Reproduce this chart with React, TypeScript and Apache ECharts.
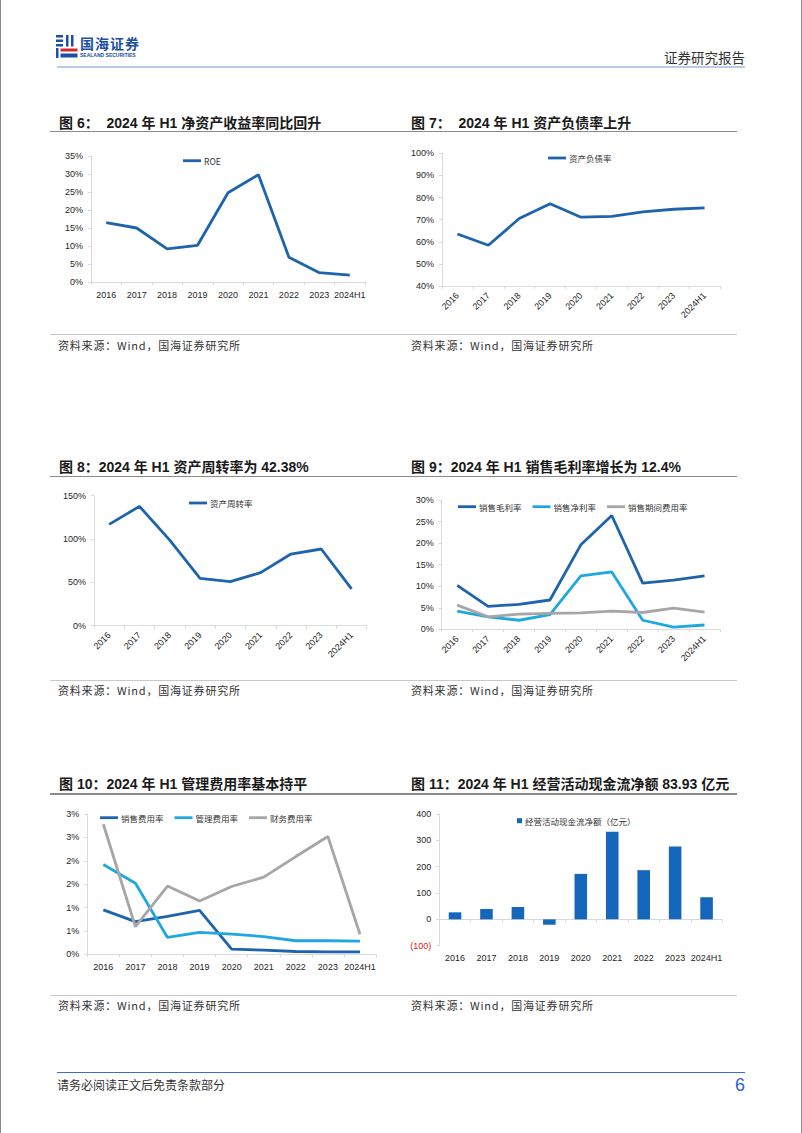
import React, { useEffect, useRef } from "react";
import * as echarts from "echarts";

// ---------------- data ----------------
const years = ["2016", "2017", "2018", "2019", "2020", "2021", "2022", "2023", "2024H1"];
const roe = [16.5, 15.0, 9.2, 10.2, 24.8, 29.8, 6.9, 2.6, 1.9];
const debtRatio = [63.5, 58.4, 70.5, 77.2, 71.1, 71.5, 73.5, 74.7, 75.3];
const assetTurnover = [116.9, 137.7, 98.8, 54.6, 50.8, 61.2, 82.7, 88.5, 42.38];
const grossMargin = [10.2, 5.3, 5.8, 6.8, 19.6, 26.4, 10.7, 11.4, 12.4];
const netMargin = [4.2, 2.9, 2.1, 3.4, 12.4, 13.3, 2.1, 0.5, 1.0];
const periodExpense = [5.6, 2.9, 3.5, 3.7, 3.8, 4.2, 3.9, 4.9, 4.0];
const sellingExpense = [0.95, 0.7, 0.81, 0.94, 0.11, 0.09, 0.06, 0.05, 0.05];
const adminExpense = [1.92, 1.52, 0.36, 0.47, 0.43, 0.38, 0.29, 0.29, 0.28];
const financeExpense = [2.78, 0.59, 1.46, 1.14, 1.45, 1.65, 2.09, 2.52, 0.43];
const operatingCashFlow = [26.7, 39.4, 47, -20.3, 172.7, 332.7, 186.7, 276.8, 83.93];

const titles = [
  "图 6：  2024 年 H1 净资产收益率同比回升",
  "图 7：  2024 年 H1 资产负债率上升",
  "图 8：2024 年 H1 资产周转率为 42.38%",
  "图 9：2024 年 H1 销售毛利率增长为 12.4%",
  "图 10：2024 年 H1 管理费用率基本持平",
  "图 11：2024 年 H1 经营活动现金流净额 83.93 亿元",
];
const sourceText = "资料来源：Wind，国海证券研究所";

// ---------------- styles ----------------
const DARK = "#1d64ad";
const LIGHT = "#1fa8e0";
const GRAY = "#a6a6a6";
const BAR = "#1467ba";
const AXIS = "#d9d9d9";
const FONT = "'Liberation Sans', Arial, 'Noto Sans CJK SC', sans-serif";
const CJK = "'Noto Sans CJK SC', 'Liberation Sans', sans-serif";

const grids = [
  { left: 91, top: 156, width: 274, height: 126 },
  { left: 442, top: 153.3, width: 278, height: 132.7 },
  { left: 94, top: 495.7, width: 272.7, height: 130 },
  { left: 441.7, top: 500, width: 278.3, height: 129.3 },
  { left: 87.3, top: 814, width: 288.7, height: 140.3 },
  { left: 439.3, top: 814, width: 283, height: 131.7 },
];

function xAxis(i: number, rotate: number) {
  return {
    type: "category",
    gridIndex: i,
    data: years,
    boundaryGap: true,
    axisLine: { show: true, onZero: true, lineStyle: { color: AXIS, width: 1 } },
    axisTick: { show: true, length: 3, lineStyle: { color: AXIS } },
    axisLabel: { interval: 0, rotate, margin: 8, fontSize: 9, color: "#262626", fontFamily: FONT },
    splitLine: { show: false },
  };
}

function yAxis(i: number, min: number, max: number, interval: number, formatter: any, rich?: any) {
  return {
    type: "value",
    gridIndex: i,
    min,
    max,
    interval,
    axisLine: { show: true, lineStyle: { color: AXIS, width: 1 } },
    axisTick: { show: true, length: 3, lineStyle: { color: AXIS } },
    axisLabel: { margin: 8, fontSize: 9, color: "#262626", fontFamily: FONT, formatter, rich },
    splitLine: { show: false },
  };
}

function line(name: string, data: number[], idx: number, color: string) {
  return {
    name,
    type: "line",
    xAxisIndex: idx,
    yAxisIndex: idx,
    data,
    symbol: "none",
    lineStyle: { color, width: 2.8 },
    itemStyle: { color },
  };
}

function legend(names: string[], left: number, cy: number, icon = "rect", w = 18, h = 2.8) {
  return {
    data: names,
    left,
    top: cy - 6,
    padding: 0,
    icon,
    itemWidth: w,
    itemHeight: h,
    itemGap: 11,
    selectedMode: false,
    textStyle: { fontSize: 8.5, lineHeight: 12, color: "#333", fontFamily: CJK, padding: [0, 0, 0, -2] },
  };
}

const pct = (v: number) => `${v}%`;
const pctRound = (v: number) => `${Math.round(v)}%`;
const cashFmt = (v: number) => (v < 0 ? `{neg|(${-v})}` : `${v}`);

const option: any = {
  animation: false,
  grid: grids.map((g) => ({ ...g, containLabel: false, outerBoundsMode: "none" })),
  xAxis: [xAxis(0, 0), xAxis(1, 45), xAxis(2, 45), xAxis(3, 45), xAxis(4, 0), xAxis(5, 0)],
  yAxis: [
    yAxis(0, 0, 35, 5, pct),
    yAxis(1, 40, 100, 10, pct),
    yAxis(2, 0, 150, 50, pct),
    yAxis(3, 0, 30, 5, pct),
    yAxis(4, 0, 3, 0.5, pctRound),
    yAxis(5, -100, 400, 100, cashFmt, { neg: { color: "#e02020", fontSize: 9, fontFamily: FONT } }),
  ],
  legend: [
    legend(["ROE"], 183, 160.7),
    legend(["资产负债率"], 548, 158),
    legend(["资产周转率"], 189, 503),
    legend(["销售毛利率", "销售净利率", "销售期间费用率"], 458, 506.7),
    legend(["销售费用率", "管理费用率", "财务费用率"], 100, 817.7),
    legend(["经营活动现金流净额（亿元）"], 517, 820.7, "rect", 5, 5),
  ],
  series: [
    line("ROE", roe, 0, DARK),
    line("资产负债率", debtRatio, 1, DARK),
    line("资产周转率", assetTurnover, 2, DARK),
    line("销售毛利率", grossMargin, 3, DARK),
    line("销售净利率", netMargin, 3, LIGHT),
    line("销售期间费用率", periodExpense, 3, GRAY),
    line("销售费用率", sellingExpense, 4, DARK),
    line("管理费用率", adminExpense, 4, LIGHT),
    line("财务费用率", financeExpense, 4, GRAY),
    {
      name: "经营活动现金流净额（亿元）",
      type: "bar",
      xAxisIndex: 5,
      yAxisIndex: 5,
      data: operatingCashFlow,
      barWidth: "40%",
      itemStyle: { color: BAR },
    },
  ],
};

function Txt(props: { x: number; y: number; size: number; children: any; style?: any; right?: boolean }) {
  const lh = Math.round(props.size * 1.3);
  const base: any = {
    position: "absolute",
    top: props.y - lh / 2,
    fontSize: props.size,
    lineHeight: `${lh}px`,
    whiteSpace: "pre",
    color: "#262626",
    fontFamily: CJK,
  };
  if (props.right) base.right = 802 - props.x;
  else base.left = props.x;
  return <div style={{ ...base, ...(props.style || {}) }}>{props.children}</div>;
}

function HLine(props: { x1: number; x2: number; y: number; color: string; w: number }) {
  return (
    <div
      style={{
        position: "absolute",
        left: props.x1,
        top: props.y - props.w / 2,
        width: props.x2 - props.x1,
        height: props.w,
        background: props.color,
      }}
    />
  );
}

const titleRows = [122.7, 466.5, 783.5];
const titleLines = [131.7, 476.5, 794];
const sourceLines = [334.7, 680, 995];
const sourceRows = [344.5, 690, 1004.5];

export default function App() {
  const ref = useRef<HTMLDivElement>(null);
  useEffect(() => {
    const chart = echarts.init(ref.current as HTMLDivElement, null, { renderer: "svg" });
    chart.setOption(option);
    return () => chart.dispose();
  }, []);

  const titleStyle = { fontWeight: 700, fontFamily: FONT, color: "#1a1a1a" };

  return (
    <div style={{ position: "absolute", left: 0, top: 0, width: 802, height: 1133, background: "#fff", overflow: "hidden" }}>
      <div ref={ref} style={{ position: "absolute", left: 0, top: 0, width: 802, height: 1133 }} />

      {/* page edges */}
      <div style={{ position: "absolute", left: 0, top: 0, width: 1, height: 1133, background: "#8c8c8c" }} />
      <div style={{ position: "absolute", left: 801, top: 0, width: 1, height: 1133, background: "#8c8c8c" }} />

      {/* header */}
      <svg style={{ position: "absolute", left: 56, top: 35 }} width={22} height={23} viewBox="0 0 22 23">
        <rect x={0} y={0} width={7} height={2.5} fill="#1d4fa5" />
        <rect x={0} y={4.5} width={7} height={2.5} fill="#1d4fa5" />
        <rect x={0} y={9} width={7} height={2.5} fill="#1d4fa5" />
        <rect x={10} y={0} width={2.5} height={11.5} fill="#1d4fa5" />
        <rect x={15} y={0} width={2.5} height={11.5} fill="#1d4fa5" />
        <rect x={0} y={13} width={2.5} height={10} fill="#1d4fa5" />
        <rect x={4.5} y={13.5} width={17} height={3} fill="#d8262d" />
        <rect x={4.5} y={18.5} width={17} height={4} fill="#1d4fa5" />
      </svg>
      <Txt x={80} y={43} size={14} style={{ fontWeight: 700, color: "#1d4fa5", letterSpacing: 1 }}>
        国海证券
      </Txt>
      <Txt x={80} y={55.5} size={5} style={{ fontWeight: 700, color: "#1d4fa5", fontFamily: FONT }}>
        SEALAND SECURITIES
      </Txt>
      <Txt x={745} y={57} size={13.5} right style={{ color: "#333" }}>
        证券研究报告
      </Txt>
      <HLine x1={57} x2={745} y={67} color="#b9cbe6" w={2} />

      {/* titles */}
      {titles.map((t, i) => (
        <Txt key={"t" + i} x={i % 2 === 0 ? 59 : 411} y={titleRows[Math.floor(i / 2)]} size={14} style={titleStyle}>
          {t}
        </Txt>
      ))}
      {titleLines.map((y, i) => (
        <HLine key={"tl" + i} x1={50} x2={737} y={y} color="#8a8a8a" w={1.5} />
      ))}
      {sourceLines.map((y, i) => (
        <HLine key={"sl" + i} x1={50} x2={737} y={y} color="#c8c8c8" w={1} />
      ))}
      {sourceRows.map((y, i) => (
        <React.Fragment key={"s" + i}>
          <Txt x={58} y={y} size={11} style={{ color: "#333", letterSpacing: 0.8 }}>
            {sourceText}
          </Txt>
          <Txt x={411} y={y} size={11} style={{ color: "#333", letterSpacing: 0.8 }}>
            {sourceText}
          </Txt>
        </React.Fragment>
      ))}

      {/* footer */}
      <HLine x1={57} x2={745} y={1072.5} color="#3a6fc4" w={1.5} />
      <Txt x={57} y={1085} size={12} style={{ color: "#333" }}>
        请务必阅读正文后免责条款部分
      </Txt>
      <Txt x={745} y={1085} size={18} right style={{ color: "#2e64c5", fontFamily: FONT }}>
        6
      </Txt>
    </div>
  );
}
